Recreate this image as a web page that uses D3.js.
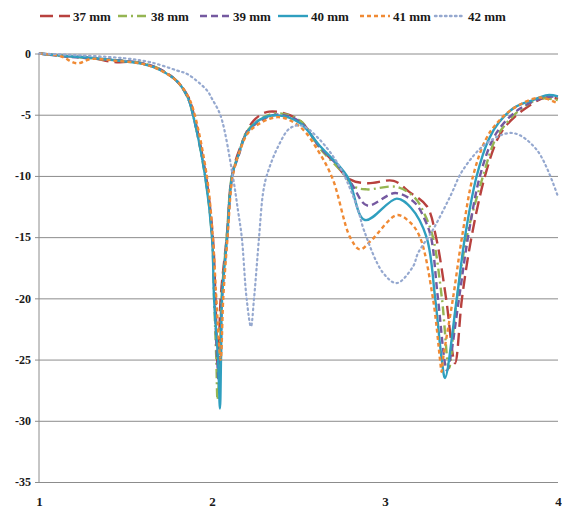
<!DOCTYPE html>
<html>
<head>
<meta charset="utf-8">
<script src="https://cdn.jsdelivr.net/npm/d3@7"></script>
<style>
  body { margin: 0; background: #fff; }
  text { font-family: "Liberation Serif", "Times New Roman", Times, Tinos, "Nimbus Roman", "Noto Serif", "DejaVu Serif", FreeSerif, serif; font-weight: bold; }
</style>
</head>
<body>
<div id="chart"></div>
<script>
// frequency (GHz) vs reflection (dB)
var s37 = [[1.00,0],[1.15,-0.2],[1.30,-0.35],[1.43,-0.7],[1.55,-0.7],[1.70,-1.3],[1.80,-2.3],[1.865,-3.6],
  [1.895,-5],[1.965,-10],[2.005,-15],[2.02,-20],[2.035,-26.5],[2.05,-20],[2.085,-15],[2.115,-10],[2.16,-7.8],
  [2.24,-5.5],[2.33,-4.75],[2.50,-5.4],[2.62,-7.6],[2.70,-8.8],[2.80,-10.3],[2.90,-10.6],[3.05,-10.4],
  [3.14,-11.3],[3.243,-12.5],[3.295,-15],[3.353,-20],[3.405,-25.3],[3.445,-20],[3.50,-15],[3.578,-10],
  [3.65,-7.0],[3.70,-5.9],[3.79,-4.7],[3.925,-3.6],[4.00,-3.7]];
var s38 = [[1.00,0],[1.15,-0.2],[1.30,-0.4],[1.45,-0.55],[1.60,-0.8],[1.70,-1.3],[1.80,-2.3],[1.86,-3.6],
  [1.89,-5],[1.96,-10],[2.00,-15],[2.012,-20],[2.025,-25],[2.032,-28.3],[2.045,-25],[2.055,-20],[2.085,-15],
  [2.115,-10],[2.155,-8.2],[2.21,-6.2],[2.36,-4.9],[2.51,-5.5],[2.62,-7.7],[2.74,-9.5],[2.827,-10.9],
  [2.896,-11.1],[3.069,-10.9],[3.173,-11.8],[3.231,-13.2],[3.277,-15],[3.329,-20],[3.37,-25.7],[3.40,-22],
  [3.416,-20],[3.472,-15],[3.567,-10],[3.635,-7.1],[3.69,-5.9],[3.78,-4.6],[3.896,-3.7],[4.00,-3.8]];
var s39 = [[1.00,0],[1.15,-0.25],[1.30,-0.4],[1.45,-0.55],[1.60,-0.8],[1.70,-1.3],[1.80,-2.3],[1.86,-3.6],
  [1.89,-5],[1.962,-10],[2.002,-15],[2.015,-20],[2.03,-25],[2.04,-27],[2.05,-25],[2.058,-20],[2.088,-15],
  [2.118,-10],[2.155,-8.3],[2.21,-6.3],[2.37,-5.0],[2.51,-5.6],[2.62,-7.6],[2.74,-9.35],[2.809,-10.7],
  [2.896,-12.4],[3.06,-11.4],[3.173,-12.2],[3.231,-13.6],[3.266,-15],[3.306,-20],[3.358,-25.9],[3.376,-25],
  [3.428,-20],[3.48,-15],[3.549,-10],[3.62,-7.1],[3.68,-5.8],[3.77,-4.6],[3.896,-3.7],[4.00,-3.5]];
var s40 = [[1.00,0],[1.15,-0.2],[1.30,-0.35],[1.50,-0.65],[1.60,-0.85],[1.70,-1.35],[1.80,-2.3],[1.86,-3.6],
  [1.89,-5],[1.96,-10],[2.00,-15],[2.012,-20],[2.035,-25],[2.046,-29],[2.052,-25],[2.058,-20],[2.087,-15],
  [2.116,-10],[2.15,-8.4],[2.20,-6.5],[2.277,-5.4],[2.38,-5.05],[2.51,-5.7],[2.62,-7.5],[2.78,-10],
  [2.884,-13.6],[3.068,-11.85],[3.15,-12.6],[3.24,-15],[3.29,-20],[3.328,-25],[3.347,-26.5],[3.415,-20],
  [3.462,-15],[3.53,-10],[3.60,-7.0],[3.66,-5.6],[3.75,-4.4],[3.855,-3.8],[3.94,-3.4],[4.00,-3.5]];
var s41 = [[1.00,0],[1.12,-0.2],[1.22,-0.8],[1.30,-0.45],[1.45,-0.6],[1.60,-0.85],[1.70,-1.35],[1.80,-2.3],
  [1.865,-3.6],[1.90,-5],[1.97,-10],[2.005,-15],[2.025,-20],[2.05,-25],[2.065,-20],[2.09,-15],[2.12,-10],
  [2.16,-8.0],[2.22,-6.3],[2.38,-5.2],[2.51,-6.0],[2.62,-8.1],[2.699,-10.3],[2.798,-15],[2.855,-16],
  [2.925,-15.2],[3.069,-13.2],[3.145,-13.8],[3.202,-15],[3.277,-20],[3.318,-25],[3.327,-26],[3.335,-25],
  [3.393,-20],[3.445,-15],[3.509,-10],[3.58,-7.1],[3.64,-5.8],[3.74,-4.5],[3.896,-3.6],[4.00,-4.1]];
var s42 = [[1.00,0],[1.30,-0.2],[1.50,-0.4],[1.64,-0.7],[1.80,-1.4],[1.86,-1.7],[1.97,-3.0],[2.00,-3.7],
  [2.05,-5.1],[2.12,-10],[2.15,-12.8],[2.172,-15],[2.20,-20],[2.225,-22.3],[2.243,-20],[2.272,-15],
  [2.295,-11.4],[2.316,-10],[2.382,-7.6],[2.451,-6.1],[2.52,-5.9],[2.62,-7.0],[2.74,-9.3],[2.838,-12.5],
  [2.88,-14.5],[2.988,-17.9],[3.068,-18.75],[3.162,-17.4],[3.191,-16.3],[3.277,-14.4],[3.376,-11.7],
  [3.451,-9.5],[3.59,-7.3],[3.74,-6.5],[3.879,-7.9],[4.00,-11.7]];

var seriesNames = ["37 mm", "38 mm", "39 mm", "40 mm", "41 mm", "42 mm"];
var seriesData = [s37, s38, s39, s40, s41, s42];
var yTicks = [0, -5, -10, -15, -20, -25, -30, -35];
var xTicks = [1, 2, 3, 4];

var colors = ["#b8413e", "#95b552", "#7559a0", "#2f9fbf", "#f08a34", "#95a8cf"];
var dashes = ["13,6", "9,4,2,4", "7,4", null, "4,3", "1.5,3.5"];

var width = 565, height = 513;
var svg = d3.select("#chart").append("svg")
  .attr("width", width)
  .attr("height", height);

var x = d3.scaleLinear().domain([1, 4]).range([39, 558]);
var y = d3.scaleLinear().domain([-35, 0]).range([482, 53.5]);

// gridlines + y labels
var yAxis = svg.append("g")
  .attr("transform", "translate(35,0)")
  .call(d3.axisLeft(y).tickValues(yTicks).tickSize(-523).tickSizeOuter(0).tickPadding(4));
yAxis.attr("font-family", null);
yAxis.select(".domain").remove();
yAxis.selectAll("line").attr("stroke", "#8c8c8c").attr("stroke-width", 1);
yAxis.selectAll("text")
  .attr("fill", "#1a1a1a")
  .style("font-size", "12px")
  .text(d => d === 0 ? "0" : "-" + Math.abs(d));

// left axis line
svg.append("line")
  .attr("x1", x(1)).attr("x2", x(1))
  .attr("y1", y(0)).attr("y2", y(-35))
  .attr("stroke", "#8c8c8c");

// x labels
var xAxis = svg.append("g")
  .attr("transform", "translate(0," + y(-35) + ")")
  .call(d3.axisBottom(x).tickValues(xTicks).tickSize(0).tickPadding(15).tickFormat(d3.format("d")));
xAxis.attr("font-family", null);
xAxis.select(".domain").remove();
xAxis.selectAll("text")
  .attr("fill", "#1a1a1a")
  .style("font-size", "13px");

// curves
var line = d3.line()
  .x(d => x(d[0]))
  .y(d => y(d[1]))
  .curve(d3.curveCatmullRom.alpha(0.5));

seriesData.forEach(function(s, i) {
  svg.append("path")
    .datum(s)
    .attr("d", line)
    .attr("fill", "none")
    .attr("stroke", colors[i])
    .attr("stroke-width", i === 5 ? 2.2 : 2.4)
    .attr("stroke-linecap", i === 5 ? "round" : "butt")
    .attr("stroke-dasharray", dashes[i]);
});

// legend
var legendX = [40, 118, 200, 278, 360, 435];
var legend = svg.append("g");
seriesNames.forEach(function(name, i) {
  var lx = legendX[i];
  legend.append("line")
    .attr("x1", lx).attr("x2", lx + 30)
    .attr("y1", 16).attr("y2", 16)
    .attr("stroke", colors[i])
    .attr("stroke-width", 2.4)
    .attr("stroke-linecap", i === 5 ? "round" : "butt")
    .attr("stroke-dasharray", dashes[i]);
  legend.append("text")
    .attr("x", lx + 33)
    .attr("y", 21)
    .attr("fill", "#1a1a1a")
    .style("font-size", "13px")
    .text(name);
});
</script>
</body>
</html>
